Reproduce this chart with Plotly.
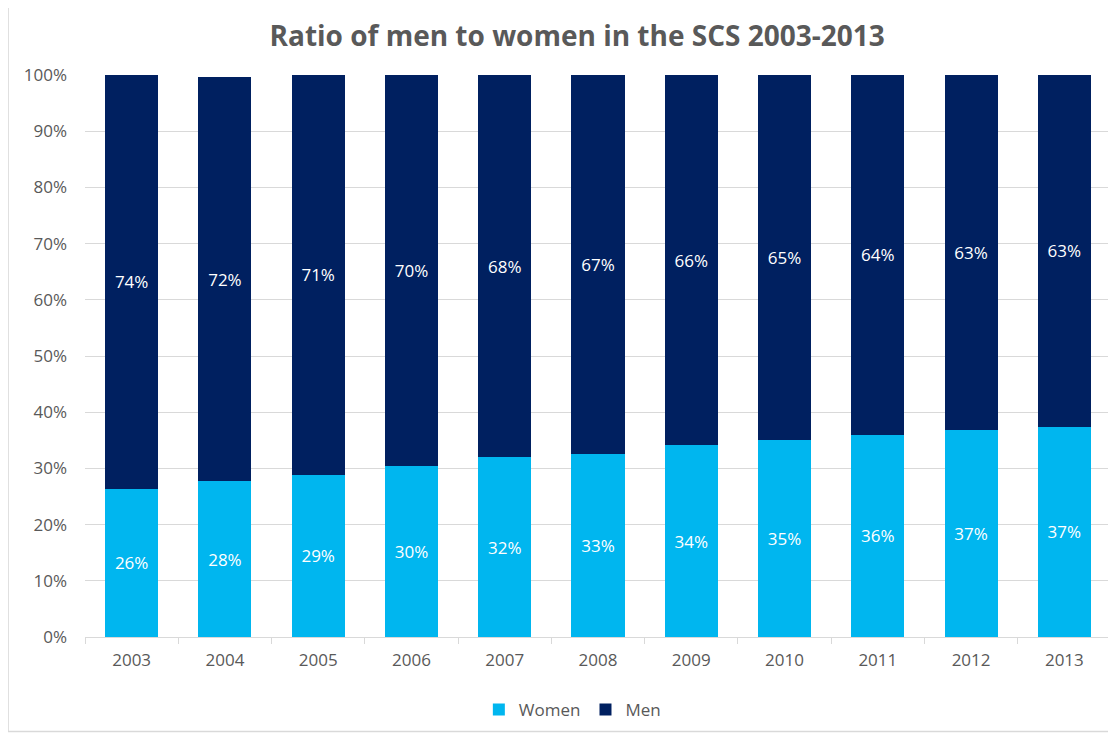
import plotly.graph_objects as go

years = ['2003', '2004', '2005', '2006', '2007', '2008', '2009', '2010', '2011', '2012', '2013']
women = [0.264, 0.277, 0.289, 0.304, 0.320, 0.326, 0.341, 0.351, 0.360, 0.369, 0.374]
men = [0.736, 0.720, 0.711, 0.696, 0.680, 0.674, 0.659, 0.649, 0.640, 0.631, 0.626]

grey = '#595959'
font_fam = 'Open Sans'

fig = go.Figure()
fig.add_trace(go.Bar(x=years, y=women, name='Women', marker=dict(color='#00B6EF', line=dict(width=0)),
                     texttemplate='%{y:.0%}', textposition='inside', insidetextanchor='middle',
                     textangle=0, textfont=dict(color='white', size=17, family=font_fam)))
fig.add_trace(go.Bar(x=years, y=men, name='Men', marker=dict(color='#002060', line=dict(width=0)),
                     texttemplate='%{y:.0%}', textposition='inside', insidetextanchor='middle',
                     textangle=0, textfont=dict(color='white', size=17, family=font_fam)))

fig.update_xaxes(showline=True, linecolor='#d9d9d9', linewidth=1, ticks='outside', tickson='boundaries',
                 ticklen=6, tickcolor='#d9d9d9', showgrid=False, ticklabelstandoff=8,
                 tickfont=dict(family=font_fam, size=17, color=grey))
fig.update_yaxes(range=[0, 1.0001], dtick=0.1, tickformat='.0%', showgrid=True, gridcolor='#d9d9d9',
                 gridwidth=1, zeroline=False, showline=False, ticklabelstandoff=17,
                 tickfont=dict(family=font_fam, size=17, color=grey))

# chart-area border (right side runs off the picture)
fig.add_shape(type='rect', xref='paper', yref='paper', x0=-0.075, x1=1.02, y0=-0.168, y1=1.123,
              line=dict(color='#d9d9d9', width=1.5), fillcolor='rgba(0,0,0,0)', layer='below')

fig.update_layout(barmode='stack', bargap=0.43, width=1116, height=733,
                  paper_bgcolor='white', plot_bgcolor='white',
                  margin=dict(l=77, r=13, t=67, b=103.5),
                  title=dict(text='<b>Ratio of men to women in the SCS 2003-2013</b>', x=0.51, xanchor='center',
                             y=0.962, yanchor='middle', font=dict(family=font_fam, size=28, color=grey)),
                  legend=dict(orientation='h', x=0.475, xanchor='center', y=-0.13, yanchor='middle',
                              font=dict(family=font_fam, size=17, color=grey), traceorder='normal'),
                  showlegend=True)

fig.write_html('out.html')
